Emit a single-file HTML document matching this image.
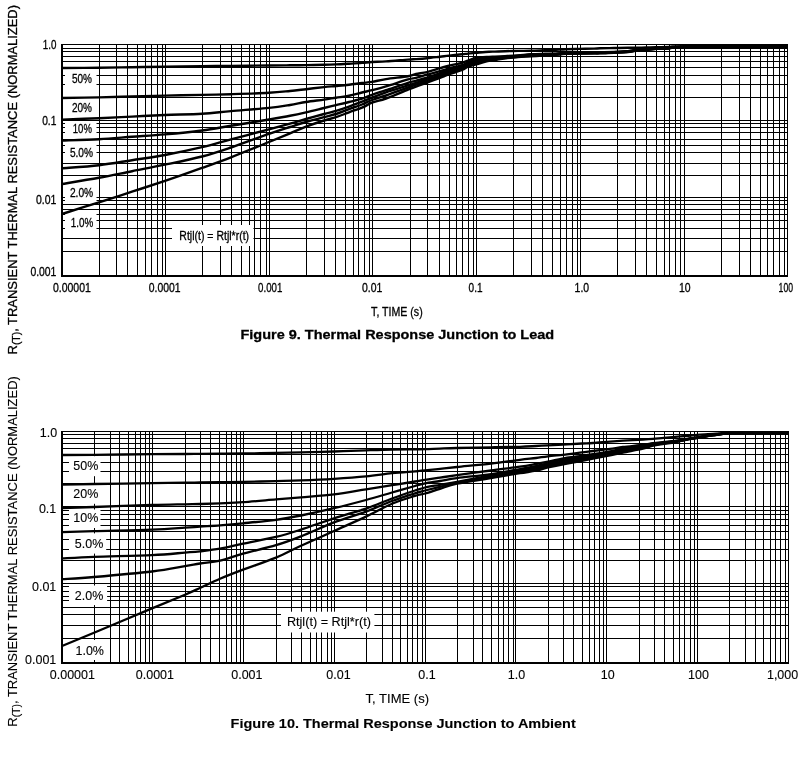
<!DOCTYPE html>
<html lang="en"><head><meta charset="utf-8"><title>Thermal Response</title>
<style>html,body{margin:0;padding:0;background:#fff}svg{display:block}text{font-family:"Liberation Sans",Arial,Helvetica,sans-serif;fill:#000;stroke:#000;stroke-width:0.3px}#chart2 text{stroke-width:0.12px}</style>
</head><body>
<svg width="808" height="757" viewBox="0 0 808 757">
<rect width="808" height="757" fill="#fff"/>
<g id="chart1">
<path d="M99.5 44V277M116.5 44V277M127.5 44V277M137.5 44V277M145.5 44V277M151.5 44V277M157.5 44V277M162.5 44V277M165.5 44V277M202.5 44V277M220.5 44V277M231.5 44V277M241.5 44V277M249.5 44V277M254.5 44V277M260.5 44V277M266.5 44V277M269.5 44V277M306.5 44V277M324.5 44V277M335.5 44V277M345.5 44V277M353.5 44V277M358.5 44V277M364.5 44V277M369.5 44V277M372.5 44V277M410.5 44V277M427.5 44V277M439.5 44V277M449.5 44V277M456.5 44V277M462.5 44V277M468.5 44V277M473.5 44V277M476.5 44V277M513.5 44V277M531.5 44V277M542.5 44V277M552.5 44V277M560.5 44V277M566.5 44V277M572.5 44V277M577.5 44V277M580.5 44V277M617.5 44V277M635.5 44V277M646.5 44V277M656.5 44V277M664.5 44V277M669.5 44V277M675.5 44V277M680.5 44V277M684.5 44V277M721.5 44V277M739.5 44V277M750.5 44V277M760.5 44V277M767.5 44V277M773.5 44V277M779.5 44V277M784.5 44V277M61 48.5H788M61 51.5H788M61 56.5H788M61 61.5H788M61 67.5H788M61 75.5H788M61 84.5H788M61 97.5H788M61 120.5H788M61 123.5H788M61 127.5H788M61 132.5H788M61 139.5H788M61 145.5H788M61 152.5H788M61 163.5H788M61 175.5H788M61 197.5H788M61 200.5H788M61 204.5H788M61 209.5H788M61 214.5H788M61 220.5H788M61 228.5H788M61 238.5H788M61 251.5H788" stroke="#000" stroke-width="1.0" fill="none"/>
<rect x="65" y="69" width="31.5" height="27" fill="#fff"/>
<rect x="65" y="122" width="31.5" height="15" fill="#fff"/>
<rect x="65" y="142" width="31.5" height="19" fill="#fff"/>
<rect x="65" y="186" width="31.5" height="17" fill="#fff"/>
<rect x="65" y="210.5" width="31.5" height="25.5" fill="#fff"/>
<rect x="172" y="225" width="81.5" height="21" fill="#fff"/>
<rect x="61" y="44" width="2" height="233"/>
<rect x="787" y="44" width="1" height="233"/>
<rect x="61" y="44" width="727" height="1"/>
<rect x="61" y="275" width="727" height="2"/>
<rect x="684" y="44" width="104" height="4.7"/>
<path d="M62.0 68.00C68.2 67.95 87.3 67.83 99.0 67.70C110.7 67.57 121.0 67.37 132.0 67.20C143.0 67.03 153.3 66.87 165.0 66.70C176.7 66.53 191.0 66.33 202.0 66.20C213.0 66.07 219.8 66.02 231.0 65.90C242.2 65.78 259.2 65.60 269.0 65.50C278.8 65.40 283.8 65.37 290.0 65.30C296.2 65.23 300.3 65.18 306.0 65.10C311.7 65.02 319.0 64.92 324.0 64.80C329.0 64.68 331.8 64.58 336.0 64.40C340.2 64.22 344.7 63.95 349.0 63.70C353.3 63.45 358.2 63.18 362.0 62.90C365.8 62.62 368.0 62.25 372.0 62.00C376.0 61.75 380.0 61.80 386.0 61.40C392.0 61.00 403.0 59.98 408.0 59.60C413.0 59.22 412.8 59.33 416.0 59.10C419.2 58.87 423.0 58.60 427.0 58.20C431.0 57.80 436.3 57.13 440.0 56.70C443.7 56.27 445.3 56.00 449.0 55.60C452.7 55.20 458.8 54.63 462.0 54.30C465.2 53.97 465.7 53.83 468.0 53.60C470.3 53.37 472.5 53.20 476.0 52.90C479.5 52.60 485.8 52.02 489.0 51.80C492.2 51.58 492.3 51.70 495.0 51.60C497.7 51.50 501.2 51.32 505.0 51.20C508.8 51.08 513.7 50.97 518.0 50.90C522.3 50.83 526.5 50.90 531.0 50.80C535.5 50.70 541.2 50.43 545.0 50.30C548.8 50.17 550.5 50.18 554.0 50.00C557.5 49.82 561.7 49.38 566.0 49.20C570.3 49.02 575.3 49.00 580.0 48.90C584.7 48.80 590.7 48.70 594.0 48.60C597.3 48.50 596.7 48.40 600.0 48.30C603.3 48.20 609.3 48.08 614.0 48.00C618.7 47.92 624.5 47.85 628.0 47.80C631.5 47.75 632.0 47.75 635.0 47.70C638.0 47.65 642.5 47.58 646.0 47.50C649.5 47.42 652.2 47.30 656.0 47.20C659.8 47.10 664.3 47.05 669.0 46.90C673.7 46.75 664.3 46.45 684.0 46.30C703.7 46.15 769.8 46.05 787.0 46.00" stroke="#000" stroke-width="2.4" fill="none" stroke-linejoin="round"/>
<path d="M62.0 98.00C68.2 97.90 87.3 97.65 99.0 97.40C110.7 97.15 121.0 96.80 132.0 96.50C143.0 96.20 153.3 95.87 165.0 95.60C176.7 95.33 191.0 95.13 202.0 94.90C213.0 94.67 219.8 94.55 231.0 94.20C242.2 93.85 259.2 93.33 269.0 92.80C278.8 92.27 283.8 91.60 290.0 91.00C296.2 90.40 300.3 89.85 306.0 89.20C311.7 88.55 319.0 87.63 324.0 87.10C329.0 86.57 331.8 86.40 336.0 86.00C340.2 85.60 344.7 85.20 349.0 84.70C353.3 84.20 358.2 83.47 362.0 83.00C365.8 82.53 368.0 82.55 372.0 81.90C376.0 81.25 380.0 80.05 386.0 79.10C392.0 78.15 403.0 77.05 408.0 76.20C413.0 75.35 412.8 74.68 416.0 74.00C419.2 73.32 423.0 73.07 427.0 72.10C431.0 71.13 436.3 69.27 440.0 68.20C443.7 67.13 445.3 66.60 449.0 65.70C452.7 64.80 458.8 63.65 462.0 62.80C465.2 61.95 465.7 61.40 468.0 60.60C470.3 59.80 472.5 58.62 476.0 58.00C479.5 57.38 485.8 57.12 489.0 56.90C492.2 56.68 492.3 56.82 495.0 56.70C497.7 56.58 501.2 56.42 505.0 56.20C508.8 55.98 513.7 55.72 518.0 55.40C522.3 55.08 526.5 54.57 531.0 54.30C535.5 54.03 541.2 53.92 545.0 53.80C548.8 53.68 550.5 53.72 554.0 53.60C557.5 53.48 561.7 53.23 566.0 53.10C570.3 52.97 575.3 52.90 580.0 52.80C584.7 52.70 590.7 52.58 594.0 52.50C597.3 52.42 596.7 52.38 600.0 52.30C603.3 52.22 609.3 52.20 614.0 52.00C618.7 51.80 624.5 51.40 628.0 51.10C631.5 50.80 632.0 50.50 635.0 50.20C638.0 49.90 642.5 49.58 646.0 49.30C649.5 49.02 652.2 48.73 656.0 48.50C659.8 48.27 664.3 48.18 669.0 47.90C673.7 47.62 664.3 47.03 684.0 46.80C703.7 46.57 769.8 46.55 787.0 46.50" stroke="#000" stroke-width="2.4" fill="none" stroke-linejoin="round"/>
<path d="M62.0 119.70C68.2 119.45 87.3 118.72 99.0 118.20C110.7 117.68 121.0 117.13 132.0 116.60C143.0 116.07 153.3 115.47 165.0 115.00C176.7 114.53 191.0 114.45 202.0 113.80C213.0 113.15 219.8 112.08 231.0 111.10C242.2 110.12 259.2 108.92 269.0 107.90C278.8 106.88 283.8 105.98 290.0 105.00C296.2 104.02 300.3 102.90 306.0 102.00C311.7 101.10 319.0 100.32 324.0 99.60C329.0 98.88 331.8 98.35 336.0 97.70C340.2 97.05 344.7 96.57 349.0 95.70C353.3 94.83 358.2 93.42 362.0 92.50C365.8 91.58 368.0 91.22 372.0 90.20C376.0 89.18 380.0 88.20 386.0 86.40C392.0 84.60 403.0 80.82 408.0 79.40C413.0 77.98 412.8 78.68 416.0 77.90C419.2 77.12 423.0 75.82 427.0 74.70C431.0 73.58 436.3 72.27 440.0 71.20C443.7 70.13 445.3 69.30 449.0 68.30C452.7 67.30 458.8 66.18 462.0 65.20C465.2 64.22 465.7 63.27 468.0 62.40C470.3 61.53 472.5 60.73 476.0 60.00C479.5 59.27 485.8 58.40 489.0 58.00C492.2 57.60 492.3 57.80 495.0 57.60C497.7 57.40 501.2 57.10 505.0 56.80C508.8 56.50 513.7 56.15 518.0 55.80C522.3 55.45 526.5 54.97 531.0 54.70C535.5 54.43 541.2 54.33 545.0 54.20C548.8 54.07 550.5 54.07 554.0 53.90C557.5 53.73 561.7 53.37 566.0 53.20C570.3 53.03 575.3 52.98 580.0 52.90C584.7 52.82 590.7 52.77 594.0 52.70C597.3 52.63 596.7 52.60 600.0 52.50C603.3 52.40 609.3 52.30 614.0 52.10C618.7 51.90 624.5 51.60 628.0 51.30C631.5 51.00 632.0 50.62 635.0 50.30C638.0 49.98 642.5 49.68 646.0 49.40C649.5 49.12 652.2 48.83 656.0 48.60C659.8 48.37 664.3 48.27 669.0 48.00C673.7 47.73 664.3 47.22 684.0 47.00C703.7 46.78 769.8 46.75 787.0 46.70" stroke="#000" stroke-width="2.4" fill="none" stroke-linejoin="round"/>
<path d="M62.0 140.60C68.2 140.37 87.3 139.83 99.0 139.20C110.7 138.57 121.0 137.60 132.0 136.80C143.0 136.00 153.3 135.45 165.0 134.40C176.7 133.35 191.0 131.93 202.0 130.50C213.0 129.07 219.8 127.63 231.0 125.80C242.2 123.97 259.2 121.17 269.0 119.50C278.8 117.83 283.8 116.98 290.0 115.80C296.2 114.62 300.3 113.70 306.0 112.40C311.7 111.10 319.0 109.22 324.0 108.00C329.0 106.78 331.8 106.10 336.0 105.10C340.2 104.10 344.7 103.07 349.0 102.00C353.3 100.93 358.2 99.90 362.0 98.70C365.8 97.50 368.0 96.22 372.0 94.80C376.0 93.38 380.0 92.18 386.0 90.20C392.0 88.22 403.0 84.47 408.0 82.90C413.0 81.33 412.8 81.67 416.0 80.80C419.2 79.93 423.0 78.97 427.0 77.70C431.0 76.43 436.3 74.52 440.0 73.20C443.7 71.88 445.3 70.93 449.0 69.80C452.7 68.67 458.8 67.47 462.0 66.40C465.2 65.33 465.7 64.28 468.0 63.40C470.3 62.52 472.5 61.88 476.0 61.10C479.5 60.32 485.8 59.18 489.0 58.70C492.2 58.22 492.3 58.45 495.0 58.20C497.7 57.95 501.2 57.55 505.0 57.20C508.8 56.85 513.7 56.47 518.0 56.10C522.3 55.73 526.5 55.27 531.0 55.00C535.5 54.73 541.2 54.63 545.0 54.50C548.8 54.37 550.5 54.38 554.0 54.20C557.5 54.02 561.7 53.58 566.0 53.40C570.3 53.22 575.3 53.18 580.0 53.10C584.7 53.02 590.7 52.97 594.0 52.90C597.3 52.83 596.7 52.80 600.0 52.70C603.3 52.60 609.3 52.50 614.0 52.30C618.7 52.10 624.5 51.80 628.0 51.50C631.5 51.20 632.0 50.83 635.0 50.50C638.0 50.17 642.5 49.80 646.0 49.50C649.5 49.20 652.2 48.93 656.0 48.70C659.8 48.47 664.3 48.37 669.0 48.10C673.7 47.83 664.3 47.32 684.0 47.10C703.7 46.88 769.8 46.85 787.0 46.80" stroke="#000" stroke-width="2.4" fill="none" stroke-linejoin="round"/>
<path d="M62.0 168.30C68.2 167.78 87.3 166.55 99.0 165.20C110.7 163.85 121.0 161.90 132.0 160.20C143.0 158.50 153.3 157.17 165.0 155.00C176.7 152.83 191.0 149.82 202.0 147.20C213.0 144.58 219.8 142.27 231.0 139.30C242.2 136.33 259.2 132.00 269.0 129.40C278.8 126.80 283.8 125.43 290.0 123.70C296.2 121.97 300.3 120.62 306.0 119.00C311.7 117.38 319.0 115.35 324.0 114.00C329.0 112.65 331.8 112.13 336.0 110.90C340.2 109.67 344.7 108.13 349.0 106.60C353.3 105.07 358.2 103.18 362.0 101.70C365.8 100.22 368.0 99.27 372.0 97.70C376.0 96.13 380.0 94.35 386.0 92.30C392.0 90.25 403.0 86.98 408.0 85.40C413.0 83.82 412.8 83.78 416.0 82.80C419.2 81.82 423.0 80.82 427.0 79.50C431.0 78.18 436.3 76.23 440.0 74.90C443.7 73.57 445.3 72.70 449.0 71.50C452.7 70.30 458.8 68.87 462.0 67.70C465.2 66.53 465.7 65.42 468.0 64.50C470.3 63.58 472.5 63.05 476.0 62.20C479.5 61.35 485.8 59.97 489.0 59.40C492.2 58.83 492.3 59.10 495.0 58.80C497.7 58.50 501.2 58.00 505.0 57.60C508.8 57.20 513.7 56.77 518.0 56.40C522.3 56.03 526.5 55.67 531.0 55.40C535.5 55.13 541.2 54.97 545.0 54.80C548.8 54.63 550.5 54.62 554.0 54.40C557.5 54.18 561.7 53.70 566.0 53.50C570.3 53.30 575.3 53.28 580.0 53.20C584.7 53.12 590.7 53.05 594.0 53.00C597.3 52.95 596.7 53.00 600.0 52.90C603.3 52.80 609.3 52.62 614.0 52.40C618.7 52.18 624.5 51.90 628.0 51.60C631.5 51.30 632.0 50.93 635.0 50.60C638.0 50.27 642.5 49.90 646.0 49.60C649.5 49.30 652.2 49.03 656.0 48.80C659.8 48.57 664.3 48.47 669.0 48.20C673.7 47.93 664.3 47.40 684.0 47.20C703.7 47.00 769.8 47.03 787.0 47.00" stroke="#000" stroke-width="2.4" fill="none" stroke-linejoin="round"/>
<path d="M62.0 184.00C68.2 182.97 87.3 179.93 99.0 177.80C110.7 175.67 121.0 173.38 132.0 171.20C143.0 169.02 153.3 167.15 165.0 164.70C176.7 162.25 191.0 159.37 202.0 156.50C213.0 153.63 219.8 151.27 231.0 147.50C242.2 143.73 259.2 137.32 269.0 133.90C278.8 130.48 283.8 128.98 290.0 127.00C296.2 125.02 300.3 123.65 306.0 122.00C311.7 120.35 319.0 118.43 324.0 117.10C329.0 115.77 331.8 115.32 336.0 114.00C340.2 112.68 344.7 110.78 349.0 109.20C353.3 107.62 358.2 106.03 362.0 104.50C365.8 102.97 368.0 101.50 372.0 100.00C376.0 98.50 380.0 97.58 386.0 95.50C392.0 93.42 403.0 89.30 408.0 87.50C413.0 85.70 412.8 85.75 416.0 84.70C419.2 83.65 423.0 82.60 427.0 81.20C431.0 79.80 436.3 77.67 440.0 76.30C443.7 74.93 445.3 74.23 449.0 73.00C452.7 71.77 458.8 70.13 462.0 68.90C465.2 67.67 465.7 66.53 468.0 65.60C470.3 64.67 472.5 64.22 476.0 63.30C479.5 62.38 485.8 60.75 489.0 60.10C492.2 59.45 492.3 59.75 495.0 59.40C497.7 59.05 501.2 58.45 505.0 58.00C508.8 57.55 513.7 57.05 518.0 56.70C522.3 56.35 526.5 56.17 531.0 55.90C535.5 55.63 541.2 55.32 545.0 55.10C548.8 54.88 550.5 54.85 554.0 54.60C557.5 54.35 561.7 53.80 566.0 53.60C570.3 53.40 575.3 53.47 580.0 53.40C584.7 53.33 590.7 53.25 594.0 53.20C597.3 53.15 596.7 53.20 600.0 53.10C603.3 53.00 609.3 52.82 614.0 52.60C618.7 52.38 624.5 52.12 628.0 51.80C631.5 51.48 632.0 51.05 635.0 50.70C638.0 50.35 642.5 50.00 646.0 49.70C649.5 49.40 652.2 49.13 656.0 48.90C659.8 48.67 664.3 48.55 669.0 48.30C673.7 48.05 664.3 47.58 684.0 47.40C703.7 47.22 769.8 47.23 787.0 47.20" stroke="#000" stroke-width="2.4" fill="none" stroke-linejoin="round"/>
<path d="M62.0 214.00C68.2 212.05 87.3 206.02 99.0 202.30C110.7 198.58 121.0 195.28 132.0 191.70C143.0 188.12 153.3 184.77 165.0 180.80C176.7 176.83 191.0 171.82 202.0 167.90C213.0 163.98 219.8 161.62 231.0 157.30C242.2 152.98 259.2 146.00 269.0 142.00C278.8 138.00 283.8 135.87 290.0 133.30C296.2 130.73 300.3 128.73 306.0 126.60C311.7 124.47 319.0 122.07 324.0 120.50C329.0 118.93 331.8 118.57 336.0 117.20C340.2 115.83 344.7 113.88 349.0 112.30C353.3 110.72 358.2 109.30 362.0 107.70C365.8 106.10 368.0 104.23 372.0 102.70C376.0 101.17 380.0 100.67 386.0 98.50C392.0 96.33 403.0 91.68 408.0 89.70C413.0 87.72 412.8 87.77 416.0 86.60C419.2 85.43 423.0 84.17 427.0 82.70C431.0 81.23 436.3 79.20 440.0 77.80C443.7 76.40 445.3 75.60 449.0 74.30C452.7 73.00 458.8 71.28 462.0 70.00C465.2 68.72 465.7 67.53 468.0 66.60C470.3 65.67 472.5 65.37 476.0 64.40C479.5 63.43 485.8 61.53 489.0 60.80C492.2 60.07 492.3 60.42 495.0 60.00C497.7 59.58 501.2 58.80 505.0 58.30C508.8 57.80 513.7 57.33 518.0 57.00C522.3 56.67 526.5 56.57 531.0 56.30C535.5 56.03 541.2 55.63 545.0 55.40C548.8 55.17 550.5 55.17 554.0 54.90C557.5 54.63 561.7 54.02 566.0 53.80C570.3 53.58 575.3 53.67 580.0 53.60C584.7 53.53 590.7 53.43 594.0 53.40C597.3 53.37 596.7 53.52 600.0 53.40C603.3 53.28 609.3 52.93 614.0 52.70C618.7 52.47 624.5 52.32 628.0 52.00C631.5 51.68 632.0 51.18 635.0 50.80C638.0 50.42 642.5 50.02 646.0 49.70C649.5 49.38 652.2 49.12 656.0 48.90C659.8 48.68 664.3 48.60 669.0 48.40C673.7 48.20 664.3 47.85 684.0 47.70C703.7 47.55 769.8 47.53 787.0 47.50" stroke="#000" stroke-width="2.4" fill="none" stroke-linejoin="round"/>
<text x="71.9" y="82.7" font-size="12.1" textLength="20.0" lengthAdjust="spacingAndGlyphs">50%</text>
<text x="71.9" y="111.9" font-size="12.1" textLength="20.0" lengthAdjust="spacingAndGlyphs">20%</text>
<text x="72.8" y="132.7" font-size="12.1" textLength="19.1" lengthAdjust="spacingAndGlyphs">10%</text>
<text x="69.9" y="157.1" font-size="12.1" textLength="23.1" lengthAdjust="spacingAndGlyphs">5.0%</text>
<text x="69.9" y="196.9" font-size="12.1" textLength="23.3" lengthAdjust="spacingAndGlyphs">2.0%</text>
<text x="70.8" y="227.2" font-size="12.1" textLength="22.4" lengthAdjust="spacingAndGlyphs">1.0%</text>
<text x="179.3" y="239.5" font-size="12.1" textLength="69.8" lengthAdjust="spacingAndGlyphs">Rtjl(t) = Rtjl*r(t)</text>
<text x="42.8" y="48.7" font-size="12.1" textLength="13.6" lengthAdjust="spacingAndGlyphs">1.0</text>
<text x="42.2" y="124.7" font-size="12.1" textLength="14.2" lengthAdjust="spacingAndGlyphs">0.1</text>
<text x="36" y="203.5" font-size="12.1" textLength="20.4" lengthAdjust="spacingAndGlyphs">0.01</text>
<text x="30.4" y="275.5" font-size="12.1" textLength="26.0" lengthAdjust="spacingAndGlyphs">0.001</text>
<text x="52.9" y="292.1" font-size="12.1" textLength="37.9" lengthAdjust="spacingAndGlyphs">0.00001</text>
<text x="148.8" y="292.1" font-size="12.1" textLength="31.8" lengthAdjust="spacingAndGlyphs">0.0001</text>
<text x="258.1" y="292.1" font-size="12.1" textLength="24.2" lengthAdjust="spacingAndGlyphs">0.001</text>
<text x="362" y="292.1" font-size="12.1" textLength="20.3" lengthAdjust="spacingAndGlyphs">0.01</text>
<text x="468.6" y="292.1" font-size="12.1" textLength="13.9" lengthAdjust="spacingAndGlyphs">0.1</text>
<text x="574.6" y="292.1" font-size="12.1" textLength="14.5" lengthAdjust="spacingAndGlyphs">1.0</text>
<text x="678.9" y="292.1" font-size="12.1" textLength="11.6" lengthAdjust="spacingAndGlyphs">10</text>
<text x="778.6" y="292.1" font-size="12.1" textLength="14.4" lengthAdjust="spacingAndGlyphs">100</text>
<text x="371.1" y="315.9" font-size="13.2" textLength="51.6" lengthAdjust="spacingAndGlyphs">T, TIME (s)</text>
<text x="240.5" y="338.9" font-size="13.6" textLength="313.6" lengthAdjust="spacingAndGlyphs" font-weight="bold">Figure 9. Thermal Response Junction to Lead</text>
<g transform="translate(17.3 354.4) rotate(-90)"><text x="0" y="0" font-size="13" textLength="349.4" lengthAdjust="spacingAndGlyphs">R<tspan font-size="10.4" dy="3.1">(T)</tspan><tspan dy="-3.1">, TRANSIENT THERMAL RESISTANCE (NORMALIZED)</tspan></text></g>
</g>
<g id="chart2">
<path d="M94.5 431V664M110.5 431V664M119.5 431V664M128.5 431V664M135.5 431V664M140.5 431V664M145.5 431V664M149.5 431V664M152.5 431V664M185.5 431V664M200.5 431V664M210.5 431V664M219.5 431V664M226.5 431V664M231.5 431V664M236.5 431V664M240.5 431V664M243.5 431V664M276.5 431V664M291.5 431V664M301.5 431V664M310.5 431V664M316.5 431V664M321.5 431V664M327.5 431V664M331.5 431V664M334.5 431V664M366.5 431V664M382.5 431V664M392.5 431V664M400.5 431V664M407.5 431V664M412.5 431V664M417.5 431V664M422.5 431V664M425.5 431V664M457.5 431V664M473.5 431V664M482.5 431V664M491.5 431V664M498.5 431V664M503.5 431V664M508.5 431V664M513.5 431V664M515.5 431V664M548.5 431V664M563.5 431V664M573.5 431V664M582.5 431V664M589.5 431V664M594.5 431V664M599.5 431V664M603.5 431V664M606.5 431V664M639.5 431V664M654.5 431V664M664.5 431V664M673.5 431V664M679.5 431V664M684.5 431V664M690.5 431V664M694.5 431V664M697.5 431V664M729.5 431V664M745.5 431V664M755.5 431V664M763.5 431V664M770.5 431V664M775.5 431V664M780.5 431V664M785.5 431V664M61 434.5H789M61 438.5H789M61 443.5H789M61 448.5H789M61 454.5H789M61 462.5H789M61 471.5H789M61 483.5H789M61 506.5H789M61 510.5H789M61 514.5H789M61 519.5H789M61 525.5H789M61 531.5H789M61 539.5H789M61 549.5H789M61 560.5H789M61 583.5H789M61 586.5H789M61 591.5H789M61 596.5H789M61 600.5H789M61 607.5H789M61 614.5H789M61 625.5H789M61 638.5H789" stroke="#000" stroke-width="1.0" fill="none"/>
<rect x="69" y="456.2" width="31.5" height="20.0" fill="#fff"/>
<rect x="69" y="484.6" width="31.5" height="19.19999999999999" fill="#fff"/>
<rect x="69" y="509.5" width="31.5" height="18.5" fill="#fff"/>
<rect x="69" y="533.4" width="37.2" height="20.200000000000045" fill="#fff"/>
<rect x="69" y="585.5" width="38.099999999999994" height="19.600000000000023" fill="#fff"/>
<rect x="69" y="640" width="38.099999999999994" height="20" fill="#fff"/>
<rect x="281" y="611.7" width="93.39999999999998" height="20.799999999999955" fill="#fff"/>
<rect x="61" y="431" width="2" height="233"/>
<rect x="788" y="431" width="1" height="233"/>
<rect x="61" y="431" width="728" height="1"/>
<rect x="61" y="662" width="728" height="2"/>
<rect x="727" y="431" width="62" height="3.7"/>
<path d="M62.0 455.00C67.3 454.97 79.0 454.93 94.0 454.80C109.0 454.67 136.8 454.33 152.0 454.20C167.2 454.07 177.0 454.05 185.0 454.00C193.0 453.95 194.2 453.95 200.0 453.90C205.8 453.85 212.8 453.77 220.0 453.70C227.2 453.63 233.7 453.63 243.0 453.50C252.3 453.37 266.3 453.08 276.0 452.90C285.7 452.72 291.3 452.63 301.0 452.40C310.7 452.17 323.2 451.85 334.0 451.50C344.8 451.15 356.3 450.63 366.0 450.30C375.7 449.97 383.8 449.67 392.0 449.50C400.2 449.33 409.5 449.35 415.0 449.30C420.5 449.25 420.8 449.32 425.0 449.20C429.2 449.08 434.7 448.80 440.0 448.60C445.3 448.40 448.5 448.22 457.0 448.00C465.5 447.78 480.5 447.50 491.0 447.30C501.5 447.10 512.5 447.02 520.0 446.80C527.5 446.58 531.3 446.25 536.0 446.00C540.7 445.75 542.8 445.57 548.0 445.30C553.2 445.03 561.3 444.70 567.0 444.40C572.7 444.10 577.7 443.73 582.0 443.50C586.3 443.27 588.3 443.32 593.0 443.00C597.7 442.68 605.0 441.98 610.0 441.60C615.0 441.22 617.5 441.03 623.0 440.70C628.5 440.37 638.0 439.90 643.0 439.60C648.0 439.30 649.5 439.20 653.0 438.90C656.5 438.60 660.3 438.13 664.0 437.80C667.7 437.47 671.3 437.20 675.0 436.90C678.7 436.60 682.3 436.33 686.0 436.00C689.7 435.67 693.3 435.20 697.0 434.90C700.7 434.60 704.8 434.40 708.0 434.20C711.2 434.00 713.2 433.90 716.0 433.70C718.8 433.50 722.3 433.20 725.0 433.00C727.7 432.80 721.5 432.58 732.0 432.50C742.5 432.42 778.7 432.50 788.0 432.50" stroke="#000" stroke-width="2.3" fill="none" stroke-linejoin="round"/>
<path d="M62.0 484.60C67.3 484.50 79.0 484.23 94.0 484.00C109.0 483.77 136.8 483.42 152.0 483.20C167.2 482.98 177.0 482.82 185.0 482.70C193.0 482.58 194.2 482.58 200.0 482.50C205.8 482.42 212.8 482.30 220.0 482.20C227.2 482.10 233.7 482.08 243.0 481.90C252.3 481.72 266.3 481.35 276.0 481.10C285.7 480.85 291.3 480.78 301.0 480.40C310.7 480.02 323.2 479.47 334.0 478.80C344.8 478.13 356.3 477.33 366.0 476.40C375.7 475.47 383.8 474.05 392.0 473.20C400.2 472.35 409.5 471.77 415.0 471.30C420.5 470.83 420.8 470.82 425.0 470.40C429.2 469.98 434.7 469.37 440.0 468.80C445.3 468.23 448.5 467.87 457.0 467.00C465.5 466.13 480.5 464.80 491.0 463.60C501.5 462.40 512.5 460.73 520.0 459.80C527.5 458.87 531.3 458.58 536.0 458.00C540.7 457.42 542.8 456.90 548.0 456.30C553.2 455.70 561.3 455.07 567.0 454.40C572.7 453.73 577.7 452.87 582.0 452.30C586.3 451.73 588.3 451.57 593.0 451.00C597.7 450.43 605.0 449.57 610.0 448.90C615.0 448.23 617.5 447.70 623.0 447.00C628.5 446.30 638.0 445.33 643.0 444.70C648.0 444.07 649.5 443.65 653.0 443.20C656.5 442.75 660.3 442.40 664.0 442.00C667.7 441.60 671.3 441.27 675.0 440.80C678.7 440.33 682.3 439.75 686.0 439.20C689.7 438.65 693.3 438.10 697.0 437.50C700.7 436.90 704.8 436.13 708.0 435.60C711.2 435.07 713.2 434.70 716.0 434.30C718.8 433.90 722.3 433.47 725.0 433.20C727.7 432.93 721.5 432.78 732.0 432.70C742.5 432.62 778.7 432.70 788.0 432.70" stroke="#000" stroke-width="2.3" fill="none" stroke-linejoin="round"/>
<path d="M62.0 508.00C67.3 507.83 79.0 507.50 94.0 507.00C109.0 506.50 136.8 505.45 152.0 505.00C167.2 504.55 177.0 504.47 185.0 504.30C193.0 504.13 194.2 504.17 200.0 504.00C205.8 503.83 212.8 503.60 220.0 503.30C227.2 503.00 233.7 502.85 243.0 502.20C252.3 501.55 266.3 500.22 276.0 499.40C285.7 498.58 291.3 498.13 301.0 497.30C310.7 496.47 323.2 495.72 334.0 494.40C344.8 493.08 356.3 490.93 366.0 489.40C375.7 487.87 383.8 486.52 392.0 485.20C400.2 483.88 409.5 482.40 415.0 481.50C420.5 480.60 420.8 480.45 425.0 479.80C429.2 479.15 434.7 478.37 440.0 477.60C445.3 476.83 448.5 476.38 457.0 475.20C465.5 474.02 480.5 471.92 491.0 470.50C501.5 469.08 512.5 467.78 520.0 466.70C527.5 465.62 531.3 464.83 536.0 464.00C540.7 463.17 542.8 462.75 548.0 461.70C553.2 460.65 561.3 458.68 567.0 457.70C572.7 456.72 577.7 456.38 582.0 455.80C586.3 455.22 588.3 454.93 593.0 454.20C597.7 453.47 605.0 452.33 610.0 451.40C615.0 450.47 617.5 449.55 623.0 448.60C628.5 447.65 638.0 446.52 643.0 445.70C648.0 444.88 649.5 444.25 653.0 443.70C656.5 443.15 660.3 442.83 664.0 442.40C667.7 441.97 671.3 441.62 675.0 441.10C678.7 440.58 682.3 439.88 686.0 439.30C689.7 438.72 693.3 438.20 697.0 437.60C700.7 437.00 704.8 436.22 708.0 435.70C711.2 435.18 713.2 434.90 716.0 434.50C718.8 434.10 722.3 433.58 725.0 433.30C727.7 433.02 721.5 432.88 732.0 432.80C742.5 432.72 778.7 432.80 788.0 432.80" stroke="#000" stroke-width="2.3" fill="none" stroke-linejoin="round"/>
<path d="M62.0 532.10C67.3 531.93 79.0 531.50 94.0 531.10C109.0 530.70 136.8 530.27 152.0 529.70C167.2 529.13 177.0 528.22 185.0 527.70C193.0 527.18 194.2 527.00 200.0 526.60C205.8 526.20 212.8 525.85 220.0 525.30C227.2 524.75 233.7 524.22 243.0 523.30C252.3 522.38 266.3 521.10 276.0 519.80C285.7 518.50 291.3 517.43 301.0 515.50C310.7 513.57 323.2 510.78 334.0 508.20C344.8 505.62 356.3 502.62 366.0 500.00C375.7 497.38 383.8 494.83 392.0 492.50C400.2 490.17 409.5 487.52 415.0 486.00C420.5 484.48 420.8 484.23 425.0 483.40C429.2 482.57 434.7 481.88 440.0 481.00C445.3 480.12 448.5 479.25 457.0 478.10C465.5 476.95 480.5 475.60 491.0 474.10C501.5 472.60 512.5 470.43 520.0 469.10C527.5 467.77 531.3 467.08 536.0 466.10C540.7 465.12 542.8 464.35 548.0 463.20C553.2 462.05 561.3 460.22 567.0 459.20C572.7 458.18 577.7 457.75 582.0 457.10C586.3 456.45 588.3 456.08 593.0 455.30C597.7 454.52 605.0 453.35 610.0 452.40C615.0 451.45 617.5 450.60 623.0 449.60C628.5 448.60 638.0 447.30 643.0 446.40C648.0 445.50 649.5 444.80 653.0 444.20C656.5 443.60 660.3 443.27 664.0 442.80C667.7 442.33 671.3 441.97 675.0 441.40C678.7 440.83 682.3 440.02 686.0 439.40C689.7 438.78 693.3 438.30 697.0 437.70C700.7 437.10 704.8 436.32 708.0 435.80C711.2 435.28 713.2 435.00 716.0 434.60C718.8 434.20 722.3 433.68 725.0 433.40C727.7 433.12 721.5 432.98 732.0 432.90C742.5 432.82 778.7 432.90 788.0 432.90" stroke="#000" stroke-width="2.3" fill="none" stroke-linejoin="round"/>
<path d="M62.0 558.40C67.3 558.13 79.0 557.35 94.0 556.80C109.0 556.25 136.8 555.80 152.0 555.10C167.2 554.40 177.0 553.23 185.0 552.60C193.0 551.97 194.2 551.95 200.0 551.30C205.8 550.65 212.8 549.97 220.0 548.70C227.2 547.43 233.7 545.67 243.0 543.70C252.3 541.73 266.3 539.25 276.0 536.90C285.7 534.55 291.3 532.70 301.0 529.60C310.7 526.50 323.2 521.80 334.0 518.30C344.8 514.80 356.3 511.90 366.0 508.60C375.7 505.30 383.8 501.52 392.0 498.50C400.2 495.48 409.5 492.33 415.0 490.50C420.5 488.67 420.8 488.45 425.0 487.50C429.2 486.55 434.7 485.75 440.0 484.80C445.3 483.85 448.5 483.37 457.0 481.80C465.5 480.23 480.5 477.28 491.0 475.40C501.5 473.52 512.5 471.78 520.0 470.50C527.5 469.22 531.3 468.67 536.0 467.70C540.7 466.73 542.8 465.87 548.0 464.70C553.2 463.53 561.3 461.77 567.0 460.70C572.7 459.63 577.7 459.02 582.0 458.30C586.3 457.58 588.3 457.22 593.0 456.40C597.7 455.58 605.0 454.37 610.0 453.40C615.0 452.43 617.5 451.63 623.0 450.60C628.5 449.57 638.0 448.18 643.0 447.20C648.0 446.22 649.5 445.37 653.0 444.70C656.5 444.03 660.3 443.70 664.0 443.20C667.7 442.70 671.3 442.32 675.0 441.70C678.7 441.08 682.3 440.15 686.0 439.50C689.7 438.85 693.3 438.40 697.0 437.80C700.7 437.20 704.8 436.42 708.0 435.90C711.2 435.38 713.2 435.10 716.0 434.70C718.8 434.30 722.3 433.78 725.0 433.50C727.7 433.22 721.5 433.08 732.0 433.00C742.5 432.92 778.7 433.00 788.0 433.00" stroke="#000" stroke-width="2.3" fill="none" stroke-linejoin="round"/>
<path d="M62.0 579.20C67.3 578.83 79.0 578.28 94.0 577.00C109.0 575.72 136.8 573.30 152.0 571.50C167.2 569.70 177.0 567.53 185.0 566.20C193.0 564.87 194.2 564.42 200.0 563.50C205.8 562.58 212.8 562.33 220.0 560.70C227.2 559.07 233.7 556.28 243.0 553.70C252.3 551.12 266.3 548.08 276.0 545.20C285.7 542.32 291.3 540.20 301.0 536.40C310.7 532.60 323.2 526.53 334.0 522.40C344.8 518.27 356.3 515.17 366.0 511.60C375.7 508.03 383.8 504.05 392.0 501.00C400.2 497.95 409.5 495.05 415.0 493.30C420.5 491.55 420.8 491.58 425.0 490.50C429.2 489.42 434.7 488.10 440.0 486.80C445.3 485.50 448.5 484.38 457.0 482.70C465.5 481.02 480.5 478.50 491.0 476.70C501.5 474.90 512.5 473.15 520.0 471.90C527.5 470.65 531.3 470.17 536.0 469.20C540.7 468.23 542.8 467.28 548.0 466.10C553.2 464.92 561.3 463.18 567.0 462.10C572.7 461.02 577.7 460.35 582.0 459.60C586.3 458.85 588.3 458.48 593.0 457.60C597.7 456.72 605.0 455.32 610.0 454.30C615.0 453.28 617.5 452.57 623.0 451.50C628.5 450.43 638.0 448.97 643.0 447.90C648.0 446.83 649.5 445.83 653.0 445.10C656.5 444.37 660.3 444.02 664.0 443.50C667.7 442.98 671.3 442.63 675.0 442.00C678.7 441.37 682.3 440.38 686.0 439.70C689.7 439.02 693.3 438.53 697.0 437.90C700.7 437.27 704.8 436.40 708.0 435.90C711.2 435.40 713.2 435.28 716.0 434.90C718.8 434.52 722.3 433.88 725.0 433.60C727.7 433.32 721.5 433.27 732.0 433.20C742.5 433.13 778.7 433.20 788.0 433.20" stroke="#000" stroke-width="2.3" fill="none" stroke-linejoin="round"/>
<path d="M62.0 646.00C67.3 643.78 79.0 638.97 94.0 632.70C109.0 626.43 136.8 614.73 152.0 608.40C167.2 602.07 177.0 598.10 185.0 594.70C193.0 591.30 194.2 590.65 200.0 588.00C205.8 585.35 212.8 581.85 220.0 578.80C227.2 575.75 233.7 573.23 243.0 569.70C252.3 566.17 266.3 561.58 276.0 557.60C285.7 553.62 291.3 550.23 301.0 545.80C310.7 541.37 323.2 535.87 334.0 531.00C344.8 526.13 356.3 521.15 366.0 516.60C375.7 512.05 383.8 507.15 392.0 503.70C400.2 500.25 409.5 497.60 415.0 495.90C420.5 494.20 420.8 494.68 425.0 493.50C429.2 492.32 434.7 490.43 440.0 488.80C445.3 487.17 448.5 485.50 457.0 483.70C465.5 481.90 480.5 479.75 491.0 478.00C501.5 476.25 512.5 474.42 520.0 473.20C527.5 471.98 531.3 471.65 536.0 470.70C540.7 469.75 542.8 468.70 548.0 467.50C553.2 466.30 561.3 464.62 567.0 463.50C572.7 462.38 577.7 461.60 582.0 460.80C586.3 460.00 588.3 459.62 593.0 458.70C597.7 457.78 605.0 456.33 610.0 455.30C615.0 454.27 617.5 453.60 623.0 452.50C628.5 451.40 638.0 449.85 643.0 448.70C648.0 447.55 649.5 446.40 653.0 445.60C656.5 444.80 660.3 444.45 664.0 443.90C667.7 443.35 671.3 442.98 675.0 442.30C678.7 441.62 682.3 440.52 686.0 439.80C689.7 439.08 693.3 438.63 697.0 438.00C700.7 437.37 704.8 436.50 708.0 436.00C711.2 435.50 713.2 435.38 716.0 435.00C718.8 434.62 722.3 433.97 725.0 433.70C727.7 433.43 721.5 433.45 732.0 433.40C742.5 433.35 778.7 433.40 788.0 433.40" stroke="#000" stroke-width="2.3" fill="none" stroke-linejoin="round"/>
<text x="98.3" y="469.7" font-size="13" text-anchor="end" textLength="25.02" lengthAdjust="spacingAndGlyphs">50%</text>
<text x="98.3" y="498" font-size="13" text-anchor="end" textLength="25.02" lengthAdjust="spacingAndGlyphs">20%</text>
<text x="98.3" y="522" font-size="13" text-anchor="end" textLength="25.02" lengthAdjust="spacingAndGlyphs">10%</text>
<text x="103.3" y="547.7" font-size="13" text-anchor="end" textLength="28.49" lengthAdjust="spacingAndGlyphs">5.0%</text>
<text x="103.3" y="600.4" font-size="13" text-anchor="end" textLength="28.49" lengthAdjust="spacingAndGlyphs">2.0%</text>
<text x="104.0" y="655" font-size="13" text-anchor="end" textLength="28.49" lengthAdjust="spacingAndGlyphs">1.0%</text>
<text x="286.9" y="626" font-size="13" textLength="84" lengthAdjust="spacingAndGlyphs">Rtjl(t) = Rtjl*r(t)</text>
<text x="57.2" y="437.1" font-size="13" text-anchor="end" textLength="17.38" lengthAdjust="spacingAndGlyphs">1.0</text>
<text x="56.3" y="513.3" font-size="13" text-anchor="end" textLength="17.38" lengthAdjust="spacingAndGlyphs">0.1</text>
<text x="56.3" y="590.6" font-size="13" text-anchor="end" textLength="24.33" lengthAdjust="spacingAndGlyphs">0.01</text>
<text x="56.3" y="663.6" font-size="13" text-anchor="end" textLength="31.28" lengthAdjust="spacingAndGlyphs">0.001</text>
<text x="154.9" y="678.9" font-size="13" text-anchor="middle" textLength="38.23" lengthAdjust="spacingAndGlyphs">0.0001</text>
<text x="246.9" y="678.9" font-size="13" text-anchor="middle" textLength="31.28" lengthAdjust="spacingAndGlyphs">0.001</text>
<text x="338.5" y="678.9" font-size="13" text-anchor="middle" textLength="24.33" lengthAdjust="spacingAndGlyphs">0.01</text>
<text x="427" y="678.9" font-size="13" text-anchor="middle" textLength="17.38" lengthAdjust="spacingAndGlyphs">0.1</text>
<text x="516.4" y="678.9" font-size="13" text-anchor="middle" textLength="17.38" lengthAdjust="spacingAndGlyphs">1.0</text>
<text x="607.8" y="678.9" font-size="13" text-anchor="middle" textLength="13.9" lengthAdjust="spacingAndGlyphs">10</text>
<text x="698.5" y="678.9" font-size="13" text-anchor="middle" textLength="20.85" lengthAdjust="spacingAndGlyphs">100</text>
<text x="782.6" y="678.9" font-size="13" text-anchor="middle" textLength="31.28" lengthAdjust="spacingAndGlyphs">1,000</text>
<text x="49.8" y="678.9" font-size="13" textLength="45.18" lengthAdjust="spacingAndGlyphs">0.00001</text>
<text x="365.6" y="703.1" font-size="13" textLength="63.4" lengthAdjust="spacingAndGlyphs">T, TIME (s)</text>
<text x="230.6" y="727.8" font-size="13.6" textLength="345.2" lengthAdjust="spacingAndGlyphs" font-weight="bold">Figure 10. Thermal Response Junction to Ambient</text>
<g transform="translate(17.1 726.7) rotate(-90)"><text x="0" y="0" font-size="13" textLength="350.6" lengthAdjust="spacingAndGlyphs">R<tspan font-size="10.4" dy="3.1">(T)</tspan><tspan dy="-3.1">, TRANSIENT THERMAL RESISTANCE (NORMALIZED)</tspan></text></g>
</g>
</svg></body></html>
